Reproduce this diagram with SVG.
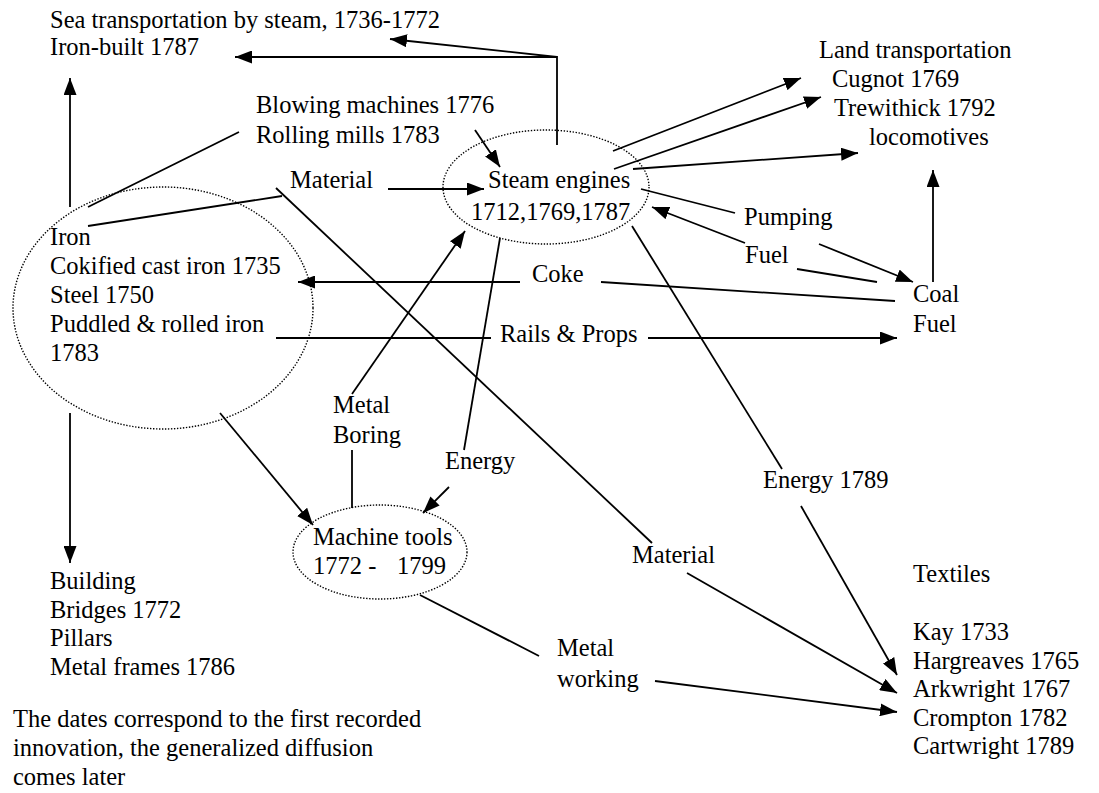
<svg xmlns="http://www.w3.org/2000/svg" width="1099" height="793" viewBox="0 0 1099 793">
<style>
text{font-family:"Liberation Serif","Times New Roman",serif;font-size:24.5px;fill:#000}
.c line,.c polyline{stroke:#000;stroke-width:1.8;fill:none}
.a{marker-end:url(#ah)}
.dot{fill:none;stroke:#000;stroke-width:1.4;stroke-dasharray:1.4 1.6}
</style>
<defs>
<marker id="ah" markerUnits="userSpaceOnUse" markerWidth="17" markerHeight="13" refX="17" refY="6.5" orient="auto"><path d="M0,0 L17,6.5 L0,13 z" fill="#000"/></marker>
</defs>
<rect width="1099" height="793" fill="#fff"/>
<g id="sea"><text x="50" y="28">Sea transportation by steam, 1736-1772</text><text x="50" y="55">Iron-built 1787</text></g>
<g id="blowing"><text x="256" y="113">Blowing machines 1776</text><text x="256" y="143">Rolling mills 1783</text></g>
<g id="land"><text x="819" y="58">Land transportation</text><text x="832" y="87">Cugnot 1769</text><text x="834" y="116">Trewithick 1792</text><text x="869" y="145">locomotives</text></g>
<g id="material1"><text x="290" y="188">Material</text></g>
<g id="steam"><ellipse class="dot" cx="546" cy="187" rx="103" ry="57"/><text x="488" y="188">Steam engines</text><text x="471" y="220">1712,1769,1787</text></g>
<g id="pumping"><text x="744" y="225">Pumping</text></g>
<g id="fuel"><text x="745" y="263">Fuel</text></g>
<g id="iron"><ellipse class="dot" cx="163" cy="308" rx="150" ry="121"/><text x="50" y="245">Iron</text><text x="50" y="274">Cokified cast iron 1735</text><text x="50" y="303">Steel 1750</text><text x="50" y="332">Puddled &amp; rolled iron</text><text x="50" y="361">1783</text></g>
<g id="coke"><text x="532" y="282">Coke</text></g>
<g id="coal"><text x="913" y="302">Coal</text><text x="913" y="332">Fuel</text></g>
<g id="rails"><text x="500" y="342">Rails &amp; Props</text></g>
<g id="metalboring"><text x="333" y="413">Metal</text><text x="333" y="443">Boring</text></g>
<g id="energy"><text x="445" y="469">Energy</text></g>
<g id="energy1789"><text x="763" y="488">Energy 1789</text></g>
<g id="machinetools"><ellipse class="dot" cx="380" cy="552" rx="87" ry="47"/><text x="313" y="545">Machine tools</text><text y="574"><tspan x="313">1772 -</tspan><tspan x="397">1799</tspan></text></g>
<g id="material2"><text x="632" y="563">Material</text></g>
<g id="metalworking"><text x="557" y="656">Metal</text><text x="557" y="687">working</text></g>
<g id="textiles"><text x="913" y="582">Textiles</text><text x="913" y="640">Kay 1733</text><text x="913" y="668.5">Hargreaves 1765</text><text x="913" y="697">Arkwright 1767</text><text x="913" y="725.5">Crompton 1782</text><text x="913" y="754">Cartwright 1789</text></g>
<g id="building"><text x="50" y="589">Building</text><text x="50" y="618">Bridges 1772</text><text x="50" y="646">Pillars</text><text x="50" y="675">Metal frames 1786</text></g>
<g id="note"><text x="13" y="727">The dates correspond to the first recorded</text><text x="13" y="756">innovation, the generalized diffusion</text><text x="13" y="785">comes later</text></g>
<g id="connectors" class="c">
<polyline class="a" points="557,145 557,57 235,57"/>
<line class="a" x1="557" y1="57" x2="390" y2="39"/>
<line class="a" x1="70" y1="207" x2="70" y2="78"/>
<line x1="88" y1="207" x2="239" y2="132"/>
<line x1="88" y1="226" x2="282" y2="196"/>
<line x1="276" y1="188" x2="652" y2="543"/>
<line class="a" x1="388" y1="189" x2="484" y2="189"/>
<line class="a" x1="475" y1="130" x2="500" y2="167"/>
<line class="a" x1="613" y1="151" x2="801" y2="78"/>
<line class="a" x1="614" y1="169" x2="821" y2="97"/>
<line class="a" x1="633" y1="169" x2="858" y2="153"/>
<line x1="641" y1="189" x2="735" y2="213"/>
<line class="a" x1="745" y1="243" x2="652" y2="207"/>
<line class="a" x1="819" y1="244" x2="913" y2="282"/>
<line x1="797" y1="269" x2="877" y2="282"/>
<line class="a" x1="933" y1="282" x2="933" y2="170"/>
<line class="a" x1="520" y1="282" x2="298" y2="282"/>
<line x1="601" y1="282" x2="895" y2="301"/>
<line x1="276" y1="338" x2="491" y2="338"/>
<line class="a" x1="648" y1="338" x2="897" y2="338"/>
<line class="a" x1="352" y1="394" x2="465" y2="231"/>
<line x1="352" y1="450" x2="352" y2="508"/>
<line x1="464" y1="450" x2="500" y2="238"/>
<line class="a" x1="449" y1="487" x2="423" y2="513"/>
<line class="a" x1="220" y1="413" x2="313" y2="525"/>
<line class="a" x1="70" y1="413" x2="70" y2="563"/>
<line x1="420" y1="595" x2="539" y2="656"/>
<line class="a" x1="655" y1="681" x2="897" y2="712"/>
<line x1="632" y1="226" x2="782" y2="469"/>
<line class="a" x1="801" y1="506" x2="897" y2="675"/>
<line class="a" x1="687" y1="573" x2="897" y2="693"/>
</g>
</svg>
